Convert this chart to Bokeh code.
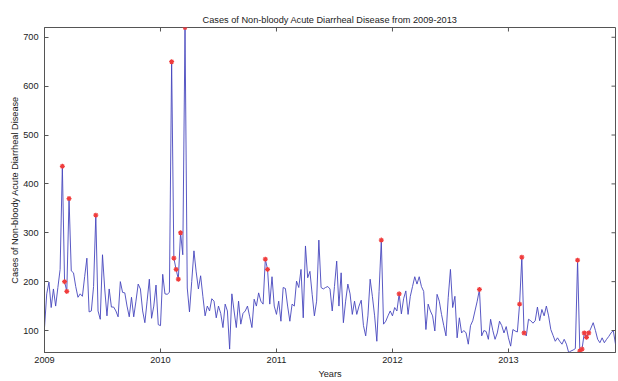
from bokeh.plotting import figure
from bokeh.models import FixedTicker, Range1d
from bokeh.embed import file_html
from bokeh.resources import INLINE

# Weekly counts of non-bloody acute diarrheal disease
cases_2009 = [106, 175, 199, 147, 185, 150, 188, 225, 436, 200, 180, 370, 222, 218, 190, 168,
              175, 170, 210, 248, 138, 140, 190, 336, 140, 123, 255, 185, 130, 185, 148, 148,
              140, 128, 200, 178, 177, 150, 128, 168, 128, 160, 195, 185, 140, 116, 160, 205,
              125, 150, 193, 112]
cases_2010 = [110, 215, 175, 174, 178, 650, 248, 225, 205, 300, 255, 720, 187, 138, 200, 263,
              220, 185, 212, 170, 130, 150, 140, 165, 160, 126, 150, 135, 106, 154, 140, 62,
              175, 140, 106, 160, 113, 135, 140, 150, 128, 106, 164, 150, 177, 160, 154, 246,
              225, 154, 210, 150]
cases_2011 = [133, 160, 119, 188, 186, 150, 119, 154, 150, 201, 188, 225, 126, 273, 208, 221,
              174, 130, 160, 285, 188, 185, 188, 190, 185, 140, 190, 242, 150, 218, 116, 160,
              195, 175, 133, 160, 133, 150, 162, 110, 89, 130, 205, 170, 130, 78, 180, 285,
              113, 119, 130, 140]
cases_2012 = [130, 147, 140, 175, 134, 165, 181, 133, 170, 190, 210, 195, 210, 190, 180, 102,
              154, 140, 130, 99, 174, 160, 133, 110, 89, 167, 225, 147, 170, 85, 126, 95,
              100, 95, 72, 110, 120, 140, 160, 184, 89, 100, 98, 82, 123, 100, 82, 95,
              119, 110, 95, 108]
cases_2013 = [85, 68, 102, 99, 97, 154, 250, 95, 89, 123, 120, 115, 120, 148, 120, 143,
              130, 150, 130, 102, 90, 78, 85, 78, 72, 82, 72, 55, 58, 60, 63, 244,
              58, 62, 95, 86, 95, 105, 116, 100, 82, 75, 85, 75, 82, 88, 95, 100, 72]

# Weeks flagged as outbreaks (red stars)
outbreak_2009 = [8, 9, 10, 11, 23]
outbreak_2010 = [5, 6, 7, 8, 9, 11, 47, 48]
outbreak_2011 = [47]
outbreak_2012 = [3, 39]
outbreak_2013 = [5, 6, 7, 31, 32, 33, 34, 35, 36]

years = [2009, 2010, 2011, 2012, 2013]
year_ticks = [2009, 2010, 2011, 2012, 2013]
case_ticks = [100, 200, 300, 400, 500, 600, 700]

series = [cases_2009, cases_2010, cases_2011, cases_2012, cases_2013]
outbreaks = [outbreak_2009, outbreak_2010, outbreak_2011, outbreak_2012, outbreak_2013]

xs, ys, ox, oy = [], [], [], []
for yr, vals, obs in zip(years, series, outbreaks):
    for w, v in enumerate(vals):
        xs.append(yr + w / 52.0)
        ys.append(v)
    for w in obs:
        ox.append(yr + w / 52.0)
        oy.append(vals[w])

FONT = "Liberation Sans"
FS = "9.2px"
AX = "#555555"
TXT = "#222222"

W, H = 618, 381
BL, BR, BT, BB = 44, 3, 27, 29
x0, x1 = min(xs), max(xs)
y0, y1 = min(ys), max(ys)

p = figure(width=W, height=H, output_backend="svg", toolbar_location=None,
           x_range=Range1d(x0, x1), y_range=Range1d(y0, y1),
           min_border_left=BL, min_border_right=BR, min_border_top=BT, min_border_bottom=BB,
           background_fill_color="white", border_fill_color="white")

p.title.text = "Cases of Non-bloody Acute Diarrheal Disease from 2009-2013"
p.title.align = "center"
p.title.text_font = FONT
p.title.text_font_size = FS
p.title.text_font_style = "normal"
p.title.text_color = TXT
p.title.standoff = 6

p.line(xs, ys, line_color="#4646bd", line_width=0.9)
p.scatter(ox, oy, marker="asterisk", size=5, line_color="#f03c3c", line_width=1.2)

p.xgrid.visible = False
p.ygrid.visible = False
p.outline_line_color = AX
p.outline_line_width = 1

# inward ticks on the top and right edges of the box (MATLAB style)
tick_dx = 4 * (x1 - x0) / (W - BL - BR)
tick_dy = 4 * (y1 - y0) / (H - BT - BB)
p.segment(x0=year_ticks, y0=[y1] * len(year_ticks), x1=year_ticks,
          y1=[y1 - tick_dy] * len(year_ticks), line_color=AX, line_width=1)
p.segment(x0=[x1] * len(case_ticks), y0=case_ticks, x1=[x1 - tick_dx] * len(case_ticks),
          y1=case_ticks, line_color=AX, line_width=1)

bottom_axis = p.below[0]
left_axis = p.left[0]

for ax in (bottom_axis, left_axis):
    ax.major_tick_in = 4
    ax.major_tick_out = 0
    ax.minor_tick_in = 0
    ax.minor_tick_out = 0
    ax.axis_line_color = AX
    ax.major_tick_line_color = AX
    ax.major_label_text_font = FONT
    ax.major_label_text_font_size = FS
    ax.major_label_text_color = TXT
    ax.axis_label_text_font = FONT
    ax.axis_label_text_font_size = FS
    ax.axis_label_text_font_style = "normal"
    ax.axis_label_text_color = TXT

bottom_axis.ticker = FixedTicker(ticks=year_ticks)
bottom_axis.major_label_standoff = 4
bottom_axis.axis_label = "Years"
bottom_axis.axis_label_standoff = 3

left_axis.ticker = FixedTicker(ticks=case_ticks)
left_axis.major_label_standoff = 6
left_axis.axis_label = "Cases of Non-bloody Acute Diarrheal Disease"
left_axis.axis_label_standoff = 0

open("out.html", "w").write(file_html(p, INLINE))
